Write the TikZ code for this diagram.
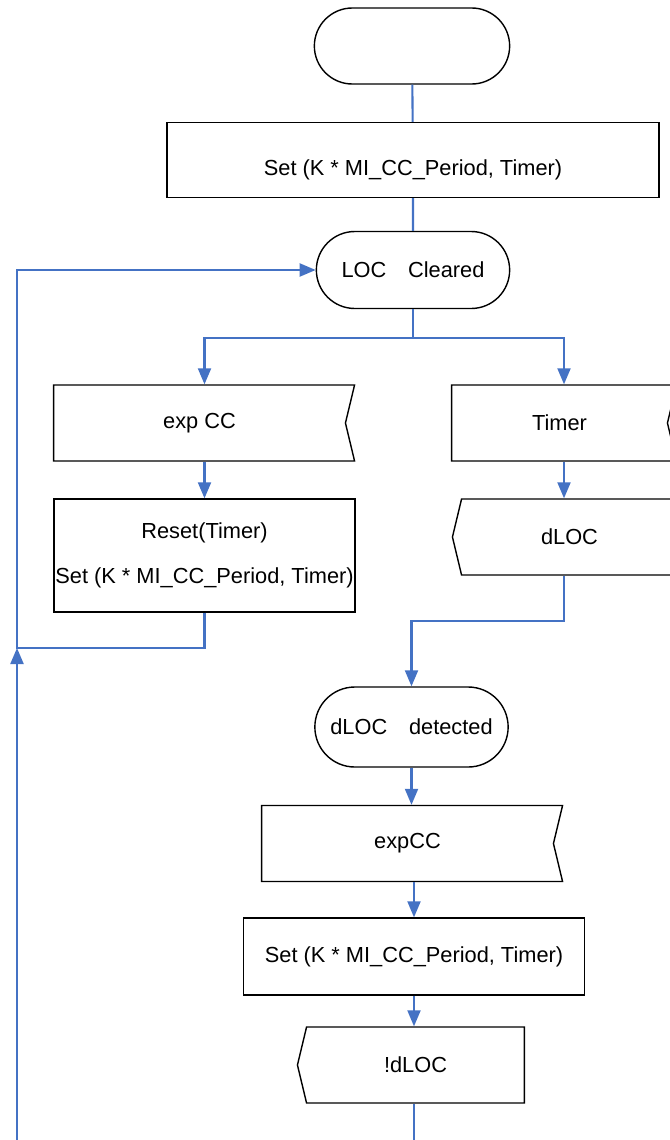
\documentclass[tikz,border=0pt]{standalone}
\usepackage{fontspec}
\setmainfont{Liberation Sans}
\usepackage{xcolor}
\usetikzlibrary{shapes.misc,shapes.symbols,arrows.meta}
\definecolor{linkblue}{RGB}{68,114,196}

\begin{document}
\begin{tikzpicture}[
    font=\fontsize{12.4}{14}\selectfont,
    terminal/.style={rounded rectangle, draw, line width=0.8pt, minimum width=4.1cm, minimum height=1.54cm},
    process/.style={rectangle, draw, line width=0.8pt, minimum height=1.5cm},
    inbox/.style={signal, signal to=nowhere, signal from=east, signal pointer angle=153, draw, line width=0.8pt, minimum height=1.52cm},
    outbox/.style={signal, signal from=nowhere, signal to=west, signal pointer angle=153, draw, line width=0.8pt, minimum height=1.52cm},
    arrow/.style={-{Triangle[length=0.32cm,width=0.26cm]}, linkblue, line width=1.2pt},
    link/.style={linkblue, line width=1.2pt}
]
    \clip (0,0) rectangle (13.4,-22.8);

    % 起始与初始化
    \node[terminal, minimum width=4.14cm, minimum height=1.52cm] (start) at (8.24,-0.92) {};

    \node[process, minimum width=9.84cm, text height=0.7cm, text depth=0.1cm] (setA) at (8.26,-3.2) {Set (K * MI\_CC\_Period, Timer)};

    \node[terminal] (cleared) at (8.26,-5.4) {LOC\quad Cleared};

    % 左分支
    \node[inbox, minimum width=6.02cm] (expL) at (3.99,-8.46) {exp CC};

    \node[process, minimum width=6.02cm, minimum height=2.26cm, inner xsep=0pt, align=center] (reset) at (4.09,-11.11) {Reset(Timer)\\[12pt]Set (K * MI\_CC\_Period, Timer)};

    % 右分支
    \coordinate (rcol) at (11.28,-8.46);

    \node[inbox, minimum width=4.5cm] (timer) at (11.19,-8.46) {Timer};

    \node[outbox, minimum width=4.5cm] (dloc) at (11.39,-10.74) {dLOC};

    \node[terminal, minimum height=1.6cm] (detected) at (8.23,-14.54) {dLOC\quad detected};

    \node[inbox, minimum width=6.02cm] (expB) at (8.15,-16.87) {expCC};

    \node[process, minimum width=6.82cm, minimum height=1.54cm] (setB) at (8.28,-19.13) {Set (K * MI\_CC\_Period, Timer)};

    \node[outbox, minimum width=4.54cm] (notdloc) at (8.31,-21.3) {!dLOC};

    % 回环汇合点
    \coordinate (loop) at (0.34,-12.96);

    % 主流程连线
    \draw[link] (start) -- (setA);
    \draw[link] (setA) -- (cleared);
    \draw[arrow] (cleared.south) -- ++(0,-0.58) -| (expL.north -| reset.north);
    \draw[arrow] (cleared.south) -- ++(0,-0.58) -| (timer.north -| rcol);
    \draw[arrow] (expL.south -| reset.north) -- (reset.north);
    \draw[arrow] (timer.south -| rcol) -- (dloc.north -| rcol);
    \draw[arrow] (dloc.south -| rcol) -- ++(0,-0.9) -| (detected.north);
    \draw[arrow] (detected.south) -- (detected.south |- expB.north);
    \draw[arrow] (setB.north |- expB.south) -- (setB.north);
    \draw[arrow] (setB.south) -- (setB.south |- notdloc.north);

    % 回环箭头
    \draw[arrow] (reset.south) |- (loop) |- (cleared.west);
    \draw[arrow] (setB.south |- notdloc.south) -- ++(0,-1.2) -| (loop);
\end{tikzpicture}
\end{document}
